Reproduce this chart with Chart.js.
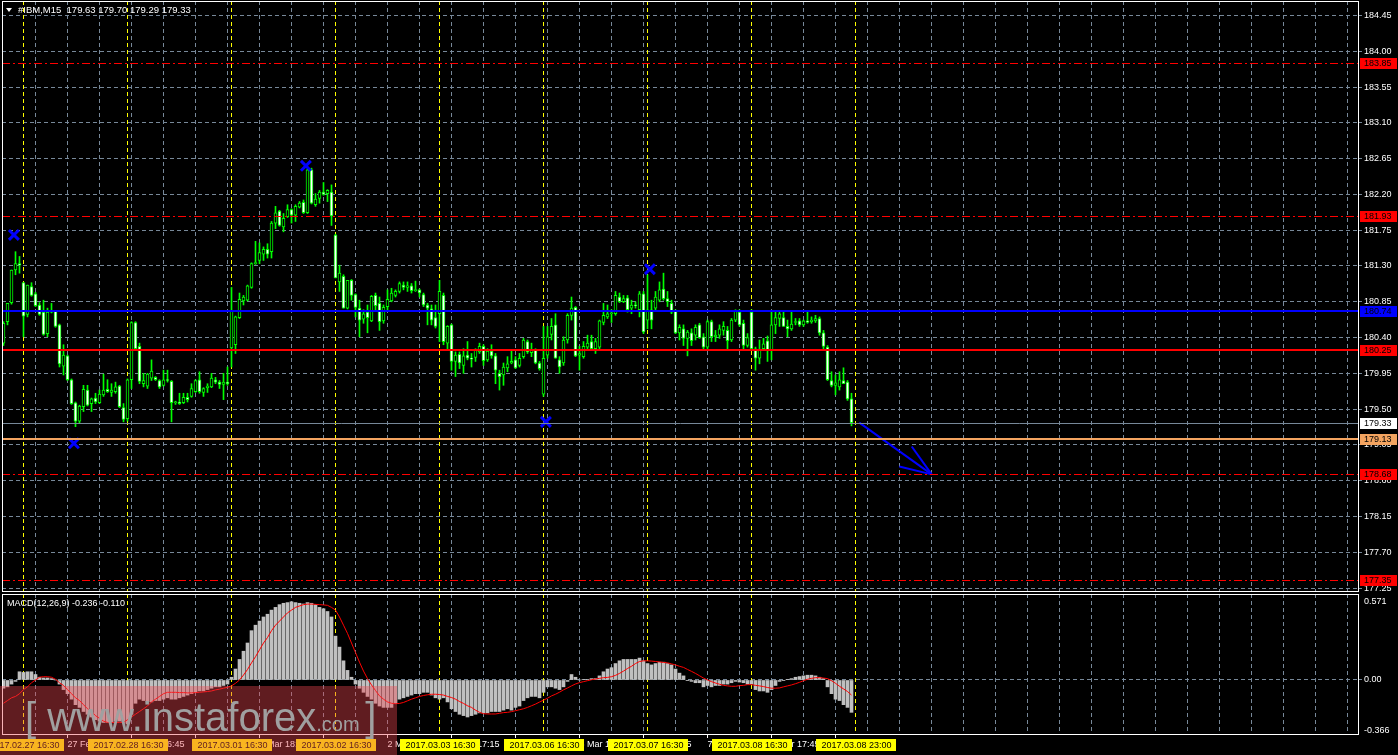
<!DOCTYPE html>
<html><head><meta charset="utf-8">
<script src="https://cdn.jsdelivr.net/npm/chart.js@4.4.1/dist/chart.umd.min.js"></script>
<style>
html,body{margin:0;padding:0;background:#000;overflow:hidden;width:1398px;height:755px;}
#wrap{position:relative;width:1398px;height:755px;background:#000;}
#c1{position:absolute;left:0;top:0;}
#c2{position:absolute;left:0;top:592px;}
#wm{position:absolute;left:0;top:686px;width:397px;height:69px;background:rgba(240,70,80,0.4);overflow:hidden;z-index:5;}
#wmt{position:absolute;left:25px;top:11px;font-family:'Liberation Sans',Arial,sans-serif;font-size:40px;line-height:40px;color:#a0a0a0;white-space:pre;}
#wmt .s{font-size:20px;line-height:0;}
</style></head>
<body><div id="wrap">
<canvas id="c1" width="1398" height="593"></canvas>
<canvas id="c2" width="1398" height="163"></canvas>
<div id="wm"><div id="wmt">[ www.instaforex<span class="s">.com </span>]</div></div>
</div>
<script>
// ---------- DATA ----------
const symbolTitle = '#IBM,M15';
const opens = [180.33,180.60,180.84,181.25,181.33,181.09,180.69,181.04,180.95,180.81,180.72,180.45,180.72,180.73,180.56,180.04,180.17,179.87,179.58,179.35,179.53,179.74,179.57,179.64,179.58,179.68,179.75,179.71,179.72,179.79,179.52,179.38,179.87,180.59,180.29,179.82,179.79,179.89,179.90,179.86,179.80,179.87,179.85,179.58,179.59,179.58,179.65,179.66,179.72,179.87,179.71,179.77,179.78,179.87,179.84,179.81,179.84,180.27,180.31,180.65,180.86,180.87,181.03,181.33,181.37,181.45,181.51,181.48,181.84,181.99,181.79,181.92,182.01,181.94,182.04,182.10,181.97,182.51,182.07,182.15,182.23,182.21,182.23,181.69,181.10,181.17,180.77,181.12,180.94,180.77,180.63,180.72,180.61,180.93,180.83,180.61,180.79,180.86,180.93,180.98,181.06,181.03,181.05,180.99,181.00,180.94,180.81,180.76,180.65,180.70,180.93,180.33,180.56,180.10,180.19,180.05,180.18,180.14,180.15,180.22,180.29,180.12,180.23,180.17,179.95,179.93,180.02,180.08,180.12,180.05,180.16,180.35,180.21,180.24,180.08,179.69,180.18,180.44,180.56,180.12,180.08,180.37,180.68,180.78,180.18,180.16,180.28,180.35,180.26,180.28,180.59,180.66,180.70,180.70,180.91,180.85,180.90,180.77,180.81,180.75,180.95,180.62,180.75,180.77,180.87,181.01,180.89,180.83,180.73,180.46,180.51,180.39,180.46,180.43,180.56,180.41,180.28,180.60,180.41,180.43,180.49,180.49,180.37,180.62,180.72,180.58,180.30,180.72,180.26,180.14,180.26,180.36,180.24,180.56,180.64,180.65,180.54,180.51,180.59,180.61,180.56,180.61,180.60,180.61,180.64,180.46,180.28,179.86,179.80,179.78,179.86,179.84,179.63];
const highs = [180.60,180.83,181.25,181.48,181.42,181.09,181.06,181.09,180.97,180.84,180.87,180.77,180.83,180.74,180.57,180.31,180.18,179.88,179.59,179.55,179.80,179.80,179.64,179.70,179.74,179.94,179.87,179.82,179.84,179.80,179.57,179.88,180.60,180.60,180.33,179.95,179.95,180.12,179.91,179.87,179.99,179.99,179.86,179.60,179.70,179.70,179.70,179.82,179.87,179.97,179.77,179.82,179.95,179.90,179.86,179.95,180.03,181.03,180.67,180.96,180.93,181.06,181.34,181.61,181.59,181.54,181.58,181.86,182.05,182.00,181.96,182.07,182.02,182.07,182.11,182.13,182.52,182.53,182.21,182.25,182.35,182.26,182.32,181.70,181.31,181.19,181.12,181.13,180.95,180.87,180.75,180.81,180.93,180.96,180.91,180.81,181.00,181.02,181.00,181.10,181.10,181.10,181.08,181.11,181.01,180.96,180.83,180.81,180.81,181.12,180.96,180.55,180.57,180.22,180.22,180.26,180.35,180.20,180.26,180.33,180.31,180.26,180.31,180.20,179.99,180.08,180.16,180.24,180.16,180.20,180.39,180.37,180.33,180.26,180.10,180.54,180.54,180.64,180.70,180.16,180.41,180.70,180.91,180.79,180.29,180.35,180.43,180.43,180.39,180.62,180.83,180.81,180.75,180.98,180.96,180.93,180.93,180.87,180.85,180.98,180.98,181.19,180.87,180.98,181.10,181.21,180.98,180.87,180.75,180.56,180.56,180.49,180.51,180.56,180.58,180.45,180.62,180.62,180.49,180.56,180.60,180.54,180.64,180.75,180.75,180.62,180.45,180.75,180.28,180.37,180.39,180.42,180.72,180.72,180.72,180.72,180.62,180.72,180.64,180.64,180.62,180.72,180.66,180.68,180.66,180.49,180.30,179.97,179.93,179.97,180.02,179.86,179.70];
const lows = [180.30,180.56,180.82,181.19,181.21,180.41,180.66,180.92,180.79,180.68,180.43,180.41,180.71,180.53,180.03,179.93,179.86,179.56,179.28,179.33,179.47,179.54,179.47,179.57,179.57,179.66,179.71,179.66,179.70,179.52,179.34,179.35,179.76,180.25,179.82,179.78,179.76,179.86,179.86,179.76,179.79,179.84,179.34,179.56,179.56,179.57,179.59,179.65,179.71,179.70,179.66,179.71,179.77,179.82,179.76,179.62,179.80,180.03,180.20,180.64,180.81,180.86,181.02,181.32,181.33,181.37,181.40,181.40,181.77,181.80,181.73,181.91,181.84,181.86,182.03,181.96,181.96,182.08,182.05,182.09,182.19,182.11,181.81,181.15,180.98,180.77,180.76,180.87,180.66,180.41,180.58,180.46,180.60,180.75,180.49,180.58,180.75,180.85,180.91,180.96,181.00,180.98,180.96,180.98,180.91,180.79,180.56,180.56,180.52,180.35,180.31,180.26,179.99,179.91,180.01,179.95,180.12,180.03,180.10,180.20,180.05,180.10,180.14,179.82,179.74,179.80,179.97,180.07,180.01,180.03,180.14,180.20,180.16,180.07,179.99,179.66,180.14,180.37,180.14,179.95,180.05,180.33,180.62,180.16,179.99,180.14,180.26,180.24,180.20,180.26,180.56,180.64,180.59,180.68,180.84,180.84,180.72,180.70,180.77,180.66,180.45,180.51,180.51,180.75,180.85,180.87,180.79,180.70,180.45,180.37,180.30,180.17,180.30,180.37,180.39,180.26,180.26,180.35,180.35,180.39,180.43,180.24,180.35,180.60,180.54,180.24,180.28,180.24,179.99,180.07,180.24,180.10,180.12,180.45,180.54,180.54,180.41,180.49,180.56,180.54,180.54,180.58,180.58,180.59,180.43,180.24,179.86,179.78,179.68,179.74,179.82,179.61,179.29];
const closes = [180.58,180.83,181.25,181.33,181.31,180.67,181.06,180.93,180.80,180.69,180.44,180.72,180.73,180.54,180.07,180.18,179.87,179.57,179.35,179.54,179.75,179.55,179.63,179.59,179.69,179.74,179.72,179.74,179.78,179.53,179.37,179.87,180.59,180.26,179.85,179.86,179.94,179.98,179.87,179.78,179.87,179.86,179.58,179.59,179.57,179.65,179.62,179.76,179.86,179.72,179.76,179.79,179.89,179.84,179.81,179.84,179.82,180.73,180.66,180.88,180.91,181.05,181.33,181.34,181.47,181.51,181.45,181.84,181.97,181.81,181.90,182.01,181.94,182.05,182.09,181.97,182.51,182.09,182.14,182.23,182.20,182.25,181.93,181.15,181.21,180.77,181.12,180.93,180.78,180.62,180.70,180.65,180.92,180.80,180.60,180.78,180.88,180.96,180.98,181.08,181.03,181.05,180.99,181.00,180.96,180.81,180.77,180.62,180.54,180.98,180.35,180.54,180.10,180.18,180.08,180.17,180.14,180.13,180.24,180.29,180.11,180.23,180.17,179.99,179.91,180.03,180.07,180.10,180.02,180.14,180.37,180.22,180.25,180.08,180.01,180.14,180.41,180.54,180.14,180.03,180.37,180.68,180.77,180.17,180.20,180.29,180.33,180.26,180.35,180.61,180.68,180.70,180.71,180.93,180.85,180.89,180.75,180.81,180.80,180.95,180.47,180.75,180.62,180.91,181.00,180.89,180.85,180.72,180.46,180.53,180.39,180.47,180.36,180.53,180.40,180.28,180.60,180.41,180.43,180.51,180.54,180.36,180.62,180.73,180.56,180.30,180.40,180.26,180.14,180.24,180.32,180.24,180.56,180.65,180.70,180.54,180.51,180.57,180.60,180.56,180.61,180.59,180.62,180.64,180.46,180.29,179.87,179.80,179.83,179.87,179.82,179.63,179.33];
const macdMain = [-0.06,-0.05,-0.03,-0.01,0.06,0.055,0.06,0.06,0.04,0.02,0.015,0.015,0.01,0.0,-0.03,-0.07,-0.10,-0.14,-0.18,-0.20,-0.23,-0.25,-0.27,-0.29,-0.30,-0.31,-0.31,-0.31,-0.30,-0.30,-0.31,-0.32,-0.25,-0.17,-0.14,-0.15,-0.16,-0.16,-0.15,-0.15,-0.14,-0.13,-0.14,-0.14,-0.13,-0.12,-0.11,-0.10,-0.09,-0.08,-0.08,-0.07,-0.06,-0.05,-0.05,-0.04,-0.03,0.02,0.08,0.15,0.21,0.27,0.36,0.40,0.43,0.46,0.48,0.51,0.53,0.55,0.56,0.565,0.571,0.565,0.56,0.555,0.565,0.56,0.55,0.53,0.52,0.50,0.46,0.32,0.24,0.14,0.07,0.02,-0.03,-0.06,-0.09,-0.12,-0.14,-0.17,-0.19,-0.20,-0.20,-0.20,-0.17,-0.14,-0.13,-0.12,-0.11,-0.10,-0.10,-0.09,-0.09,-0.11,-0.13,-0.14,-0.13,-0.16,-0.21,-0.23,-0.25,-0.26,-0.27,-0.26,-0.25,-0.24,-0.24,-0.24,-0.23,-0.23,-0.23,-0.22,-0.21,-0.22,-0.20,-0.19,-0.15,-0.13,-0.12,-0.12,-0.13,-0.09,-0.05,-0.05,-0.06,-0.07,-0.05,-0.01,0.04,0.02,0.0,0.005,0.005,0.01,0.01,0.03,0.06,0.08,0.09,0.12,0.14,0.15,0.15,0.15,0.15,0.16,0.14,0.12,0.11,0.12,0.13,0.13,0.12,0.11,0.08,0.05,0.03,-0.005,-0.01,-0.02,-0.02,-0.05,-0.04,-0.05,-0.04,-0.04,-0.03,-0.03,-0.02,-0.01,-0.015,-0.02,-0.03,-0.03,-0.07,-0.08,-0.08,-0.09,-0.07,-0.04,-0.01,-0.005,0.005,0.01,0.02,0.025,0.03,0.035,0.035,0.03,0.02,0.01,-0.05,-0.10,-0.14,-0.15,-0.18,-0.20,-0.236];
const macdSignal = [-0.17,-0.15,-0.13,-0.12,-0.10,-0.07,-0.05,-0.02,0.0,0.02,0.024,0.024,0.02,0.005,-0.02,-0.04,-0.07,-0.10,-0.13,-0.15,-0.18,-0.21,-0.23,-0.26,-0.28,-0.30,-0.31,-0.31,-0.31,-0.31,-0.31,-0.29,-0.27,-0.25,-0.23,-0.21,-0.19,-0.16,-0.14,-0.12,-0.10,-0.09,-0.09,-0.09,-0.092,-0.092,-0.094,-0.094,-0.092,-0.09,-0.087,-0.084,-0.08,-0.072,-0.067,-0.06,-0.053,-0.043,-0.024,0.0,0.036,0.077,0.125,0.17,0.22,0.27,0.31,0.36,0.40,0.43,0.46,0.49,0.51,0.53,0.54,0.55,0.554,0.554,0.552,0.55,0.548,0.545,0.53,0.51,0.46,0.40,0.34,0.27,0.20,0.13,0.065,0.01,-0.036,-0.077,-0.116,-0.14,-0.16,-0.17,-0.173,-0.171,-0.164,-0.152,-0.14,-0.13,-0.12,-0.113,-0.108,-0.104,-0.104,-0.106,-0.11,-0.12,-0.128,-0.14,-0.157,-0.171,-0.188,-0.20,-0.22,-0.236,-0.246,-0.248,-0.248,-0.248,-0.243,-0.238,-0.236,-0.231,-0.224,-0.217,-0.21,-0.20,-0.188,-0.176,-0.161,-0.147,-0.133,-0.116,-0.104,-0.089,-0.072,-0.058,-0.043,-0.029,-0.019,-0.012,-0.005,0.002,0.007,0.012,0.017,0.019,0.024,0.034,0.048,0.065,0.084,0.10,0.12,0.135,0.14,0.14,0.138,0.135,0.132,0.128,0.125,0.118,0.11,0.10,0.092,0.077,0.063,0.048,0.031,0.014,0.0,-0.012,-0.022,-0.031,-0.039,-0.043,-0.046,-0.046,-0.041,-0.039,-0.034,-0.034,-0.039,-0.043,-0.048,-0.055,-0.06,-0.06,-0.058,-0.05,-0.043,-0.036,-0.027,-0.017,-0.005,0.005,0.012,0.017,0.017,0.014,0.01,-0.005,-0.024,-0.046,-0.065,-0.084,-0.11];
const priceTicks = [184.45,184.00,183.55,183.10,182.65,182.20,181.75,181.30,180.85,180.40,179.95,179.50,179.05,178.60,178.15,177.70,177.25];
const macdTicks = [0.571, 0.00, -0.366];
const macdTickLabels = ['0.571', '0.00', '-0.366'];
const levelPrices = [183.85, 181.93, 180.74, 180.25, 179.33, 179.13, 178.68, 177.35];
const separatorBars = [5, 31, 57, 83, 109, 135, 161, 187, 213];
const separatorLabels = ['2017.02.27 16:30','2017.02.28 16:30','2017.03.01 16:30','2017.03.02 16:30','2017.03.03 16:30','2017.03.06 16:30','2017.03.07 16:30','2017.03.08 16:30','2017.03.08 23:00'];
const timeTickBars = [16,32,48,64,80,96,112,128,144,160,176,192,208];
const timeTickLabels = ['27 Feb 19:15','28 Feb 16:45','28 Feb 20:45','1 Mar 18:15','1 Mar 22:15','2 Mar 19:45','3 Mar 17:15','3 Mar 21:15','6 Mar 18:45','6 Mar 22:45','7 Mar 20:15','8 Mar 17:45','8 Mar 21:45'];
const markerBars = [2.6, 17.6, 75.6, 135.6, 161.6];
const markerPrices = [181.69, 179.07, 182.56, 179.34, 181.26];
const arrowBars = [213.95, 232.05];
const arrowPrices = [179.33, 178.68];
const arrowWingBars = [227.05, 223.95];
const arrowWingPrices = [179.03, 178.78];

// ---------- STYLE ----------
const FONT = "'Liberation Sans', Arial, sans-serif";
Chart.defaults.font.family = FONT;
Chart.defaults.font.size = 9;
const GRID = '#778899';
const XMIN = -0.375, XMAX = 338.875;
const levelStyle = [
  {c:'#ff0000', w:1, dash:[8,3,2,3], box:'#ff0000'},
  {c:'#ff0000', w:1, dash:[8,3,2,3], box:'#ff0000'},
  {c:'#0000ff', w:2, dash:[], box:'#0000ff'},
  {c:'#ff0000', w:2, dash:[], box:'#ff0000'},
  {c:'#778899', w:1, dash:[], box:'#ffffff'},
  {c:'#f4a460', w:2, dash:[], box:'#f4a460'},
  {c:'#ff0000', w:1, dash:[8,3,2,3], box:'#ff0000'},
  {c:'#ff0000', w:1, dash:[8,3,2,3], box:'#ff0000'}
];
function fixFit(w, h){
  return s => {
    if (w !== null) s.width = w;
    if (h !== null) s.height = h;
    s.paddingTop = 0; s.paddingBottom = 0; s.paddingLeft = 0; s.paddingRight = 0;
  };
}

function clipArea(ctx, a){ ctx.beginPath(); ctx.rect(a.left, a.top, a.right-a.left, a.bottom-a.top); ctx.clip(); }
function drawVLines(chart){
  const {ctx, chartArea:a, scales:{x}} = chart;
  ctx.save(); clipArea(ctx, a); ctx.lineWidth = 1;
  ctx.strokeStyle = GRID; ctx.setLineDash([4,3]);
  for (let b = 8; b <= 336; b += 8){
    const px = Math.floor(x.getPixelForValue(b)) + 0.5;
    ctx.beginPath(); ctx.moveTo(px, a.top); ctx.lineTo(px, a.bottom); ctx.stroke();
  }
  ctx.strokeStyle = '#ffff00'; ctx.setLineDash([4,3]);
  separatorBars.forEach(b => {
    const px = Math.floor(x.getPixelForValue(b)) + 0.5;
    ctx.beginPath(); ctx.moveTo(px, a.top); ctx.lineTo(px, a.bottom); ctx.stroke();
  });
  ctx.restore();
}
function drawBorder(chart){
  const {ctx, chartArea:a} = chart;
  ctx.save(); ctx.strokeStyle = '#ffffff'; ctx.lineWidth = 1; ctx.setLineDash([]);
  ctx.strokeRect(a.left+0.5, a.top+0.5, a.right-a.left-1, a.bottom-a.top-1);
  ctx.restore();
}

const mainPlugin = {
  id: 'mainDecor',
  beforeDatasetsDraw(chart){ drawVLines(chart); },
  afterDatasetsDraw(chart){
    const {ctx, chartArea:a, scales:{y}} = chart;
    ctx.save(); clipArea(ctx, a);
    levelPrices.forEach((p, k) => {
      const st = levelStyle[k];
      let py = Math.round(y.getPixelForValue(p));
      if (st.w % 2 === 1) py += 0.5;
      ctx.strokeStyle = st.c; ctx.lineWidth = st.w; ctx.setLineDash(st.dash);
      ctx.beginPath(); ctx.moveTo(a.left, py); ctx.lineTo(a.right, py); ctx.stroke();
    });
    ctx.restore();
  },
  afterDraw(chart){
    const {ctx, chartArea:a, scales:{y}} = chart;
    drawBorder(chart);
    ctx.save();
    ctx.font = "9px " + FONT; ctx.textBaseline = 'middle';
    levelPrices.forEach((p, k) => {
      const st = levelStyle[k];
      const py = Math.round(y.getPixelForValue(p));
      ctx.fillStyle = st.box; ctx.fillRect(a.right + 1, py - 5, 37, 11);
      ctx.fillStyle = '#000000'; ctx.textAlign = 'left';
      ctx.fillText(p.toFixed(2), a.right + 5, py + 0.5);
    });
    ctx.fillStyle = '#ffffff';
    ctx.beginPath(); ctx.moveTo(6, 8); ctx.lineTo(12, 8); ctx.lineTo(9, 12); ctx.closePath(); ctx.fill();
    const last = opens.length - 1;
    ctx.font = "9.5px " + FONT;
    const hdr = symbolTitle + '  ' + [opens[last], highs[last], lows[last], closes[last]].map(v => v.toFixed(2)).join(' ');
    ctx.fillText(hdr, 18, 10.5);
    ctx.restore();
  }
};

const macdPlugin = {
  id: 'macdDecor',
  beforeDatasetsDraw(chart){ drawVLines(chart); },
  afterDraw(chart){
    const {ctx, chartArea:a, scales:{x}} = chart;
    drawBorder(chart);
    ctx.save();
    ctx.font = "9px " + FONT; ctx.textBaseline = 'middle'; ctx.textAlign = 'center';
    separatorBars.forEach((b, k) => {
      const px = x.getPixelForValue(b);
      const w = Math.ceil(ctx.measureText(separatorLabels[k]).width) + 9;
      ctx.fillStyle = '#ffff00';
      ctx.fillRect(Math.round(px - w/2), 147, w, 12);
      ctx.fillStyle = '#000000';
      ctx.fillText(separatorLabels[k], Math.round(px) + 0.5, 153.5);
    });
    ctx.textAlign = 'left'; ctx.fillStyle = '#ffffff';
    const last = macdMain.length - 1;
    ctx.fillText('MACD(12,26,9) ' + macdMain[last].toFixed(3) + ' ' + macdSignal[last].toFixed(3), 7, 12);
    ctx.restore();
  }
};

// ---------- MAIN CHART ----------
const wicks = lows.map((l, i) => ({x: i, y: [l, highs[i]]}));
const bodies = opens.map((o, i) => ({x: i, y: [Math.min(o, closes[i]), Math.max(o, closes[i])]}));
const bodyFill = opens.map((o, i) => closes[i] >= o ? '#000000' : '#ffffff');

new Chart(document.getElementById('c1'), {
  type: 'bar',
  data: { datasets: [
    { type: 'line', data: markerBars.map((b, i) => ({x: b, y: markerPrices[i]})), showLine: false,
      pointStyle: 'crossRot', pointRadius: 7, pointBorderWidth: 3, pointBorderColor: '#0000ff', pointBackgroundColor: '#0000ff', order: 0 },
    { type: 'line', data: arrowBars.map((b, i) => ({x: b, y: arrowPrices[i]})), borderColor: '#0000ff', borderWidth: 2, pointRadius: 0, order: 0 },
    { type: 'line', data: [{x: arrowWingBars[0], y: arrowWingPrices[0]}, {x: arrowBars[1], y: arrowPrices[1]}], borderColor: '#0000ff', borderWidth: 2, pointRadius: 0, order: 0 },
    { type: 'line', data: [{x: arrowWingBars[1], y: arrowWingPrices[1]}, {x: arrowBars[1], y: arrowPrices[1]}], borderColor: '#0000ff', borderWidth: 2, pointRadius: 0, order: 0 },
    { data: bodies, backgroundColor: bodyFill, borderColor: '#00ff00', borderWidth: 1, borderSkipped: false,
      barThickness: 3, grouped: false, minBarLength: 1, order: 2 },
    { data: wicks, backgroundColor: '#00ff00', borderWidth: 0, barThickness: 1, grouped: false, order: 3 }
  ]},
  options: {
    responsive: false, animation: false, events: [],
    layout: { autoPadding: false, padding: { left: 2, top: 1, right: 0, bottom: 1 } },
    plugins: { legend: { display: false }, tooltip: { enabled: false } },
    scales: {
      x: { type: 'linear', min: XMIN, max: XMAX, offset: false, display: false },
      y: { position: 'right', min: 177.201, max: 184.632,
        afterBuildTicks: s => { s.ticks = priceTicks.map(v => ({value: v})); },
        afterFit: fixFit(39, null),
        ticks: { color: '#ffffff', padding: 2, font: { size: 9 }, callback: v => Number(v).toFixed(2) },
        grid: { color: GRID, lineWidth: 1, tickLength: 3, tickBorderDash: [] },
        border: { display: false, dash: [4,3] } }
    }
  },
  plugins: [mainPlugin]
});

// ---------- MACD CHART ----------
new Chart(document.getElementById('c2'), {
  type: 'bar',
  data: { datasets: [
    { type: 'line', data: macdSignal.map((v, i) => ({x: i, y: v})), borderColor: '#ff0000', borderWidth: 1, pointRadius: 0, tension: 0, order: 0 },
    { data: macdMain.map((v, i) => ({x: i, y: v})), backgroundColor: '#c0c0c0', borderWidth: 0, barThickness: 3, grouped: false, order: 1 }
  ]},
  options: {
    responsive: false, animation: false, events: [],
    layout: { autoPadding: false, padding: { left: 2, top: 2, right: 0, bottom: 0 } },
    plugins: { legend: { display: false }, tooltip: { enabled: false } },
    scales: {
      x: { type: 'linear', min: XMIN, max: XMAX, offset: false, position: 'bottom',
        afterBuildTicks: s => { s.ticks = timeTickBars.map(v => ({value: v})); },
        afterFit: fixFit(null, 20),
        ticks: { color: '#ffffff', align: 'start', padding: 1, autoSkip: false, maxRotation: 0, font: { size: 9 },
          callback: (v, idx) => timeTickLabels[idx] },
        grid: { display: true, offset: false, drawOnChartArea: false, drawTicks: true, tickLength: 3, color: '#ffffff' },
        border: { display: false } },
      y: { position: 'right', min: -0.4015, max: 0.6277,
        afterBuildTicks: s => { s.ticks = macdTicks.map(v => ({value: v})); },
        afterFit: fixFit(39, null),
        ticks: { color: '#ffffff', padding: 2, font: { size: 9 }, callback: (v, idx) => macdTickLabels[idx] },
        grid: { color: c => (c.tick && c.tick.value === 0) ? GRID : 'rgba(0,0,0,0)', tickLength: 3 },
        border: { display: false, dash: [4,3] } }
    }
  },
  plugins: [macdPlugin]
});
</script>
</body></html>
